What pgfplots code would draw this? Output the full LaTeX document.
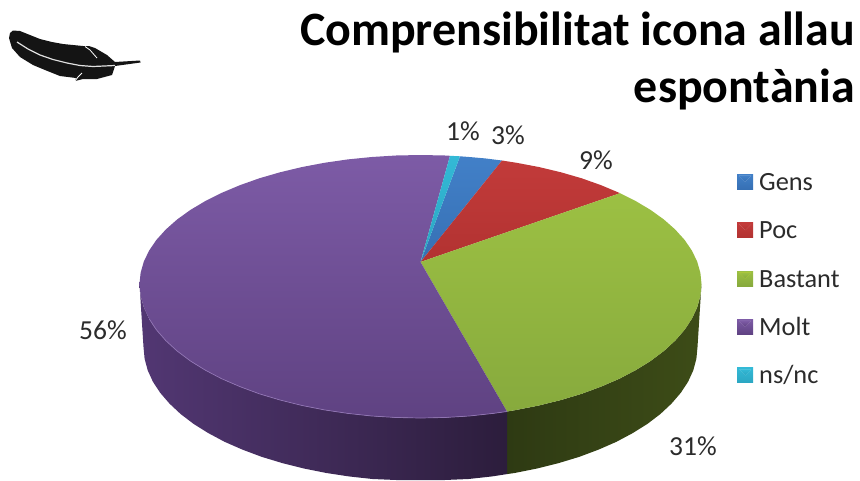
\documentclass[border=0pt]{standalone}
\usepackage{pgfplots}
\pgfplotsset{compat=1.18}
\usepackage{fontspec}
\setmainfont{Carlito}

\definecolor{blueT}{HTML}{4280C8}
\definecolor{blueB}{HTML}{3670B4}
\definecolor{redT}{HTML}{C23B3A}
\definecolor{redB}{HTML}{B23231}
\definecolor{greenT}{HTML}{9CC043}
\definecolor{greenB}{HTML}{87AA3D}
\definecolor{purpleT}{HTML}{7D5BA6}
\definecolor{purpleB}{HTML}{5F4282}
\definecolor{cyanT}{HTML}{33B9D6}
\definecolor{cyanB}{HTML}{2BA6C2}
\definecolor{greenSideL}{HTML}{2E3A13}
\definecolor{greenSideR}{HTML}{3D4C17}
\definecolor{purpleSideL}{HTML}{523773}
\definecolor{purpleSideM}{HTML}{3E2A56}
\definecolor{purpleSideR}{HTML}{2C1D3C}
\definecolor{labeltext}{HTML}{2B2B2B}

% legend swatch: dark square with a light notch on top
\pgfplotsset{swatch/.style n args={3}{
  legend image code/.code={%
    \shade[top color=#1,bottom color=#2] (0pt,-7.5pt) rectangle (16pt,7.5pt);
    \fill[#3] (2pt,6pt) -- (14pt,6pt) -- (8pt,0pt) -- cycle;
  }}}

\begin{document}
\begin{tikzpicture}
\begin{axis}[
    width=860pt, height=480pt,
    scale only axis,
    xmin=0, xmax=860, ymin=0, ymax=480,
    y dir=reverse,
    hide axis,
    clip=true,
    legend cell align=left,
    legend style={
        at={(axis cs:734,171)}, anchor=north west,
        draw=none, fill=none,
        font=\fontsize{26.3}{30}\selectfont\color{labeltext},
        row sep=31.4pt,
        nodes={text height=17pt, text depth=0pt, inner sep=0pt, outer sep=0pt},
        /tikz/every odd column/.style={column sep=6pt},
    },
]
% keeps the page at full size
\addplot[draw=none, forget plot] coordinates {(0,0) (860,480)};

% side wall, green
\addplot[draw=none, forget plot, left color=greenSideL, right color=greenSideR] coordinates {
(507,411.5) (516.6,409.9) (539.3,405.4) (561,400) (581.7,393.8) (601.1,386.6) (619.2,378.8) (635.8,370.1) (650.7,360.9) (663.9,351) (675.2,340.6) (684.6,329.8) (691.9,318.7) (697.2,307.3) (700.4,295.7) (701.5,284)
(697.5,347) (696.4,358.7) (693.3,370.3) (688.1,381.7) (680.8,392.8) (671.5,403.6) (660.4,414) (647.4,423.9) (632.7,433.1) (616.4,441.8) (598.6,449.6) (579.4,456.8) (559,463) (537.6,468.4) (515.2,472.9) (507,474.1)
} -- cycle;

% side wall, purple
\addplot[draw=none, forget plot, left color=purpleSideL, middle color=purpleSideM, right color=purpleSideR] coordinates {
(507,411.5) (493.2,413.4) (469.3,416) (445,417.5) (420.5,418) (396,417.5) (371.7,416) (347.8,413.4) (324.4,409.9) (301.7,405.4) (280,400) (259.3,393.8) (239.9,386.6) (221.8,378.8) (205.2,370.1) (190.3,360.9) (177.1,351) (165.8,340.6) (156.4,329.8) (149.1,318.7) (143.8,307.3) (140.6,295.7) (139.5,284)
(143.5,347) (144.6,358.7) (147.7,370.3) (152.9,381.7) (160.2,392.8) (169.5,403.6) (180.6,414) (193.6,423.9) (208.3,433.1) (224.6,441.8) (242.4,449.6) (261.6,456.8) (282,463) (303.4,468.4) (325.8,472.9) (348.8,476.4) (372.4,479) (396.3,480) (420.5,480) (444.7,480) (468.6,479) (492.2,476.4) (507,474.1)
} -- cycle;

% top face: Gens
\addplot[draw=none, top color=blueT, bottom color=blueB, swatch={blueT}{blueB}{blueT!45!white}] coordinates {
(420.5,262) (460,156.3) (469.3,157) (485,158.4) (493.2,159.4) (502,160.5)
} -- cycle;
\addlegendentry{Gens}

% top face: Poc
\addplot[draw=none, top color=redT, bottom color=redB, swatch={redT}{redB}{redT!45!white}] coordinates {
(420.5,262) (502,160.5) (516.6,162.8) (539.3,167.1) (561,172.3) (581.7,178.3) (601.1,185.2) (619.2,192.8) (620,193.2)
} -- cycle;
\addlegendentry{Poc}

% top face: Bastant
\addplot[draw=none, top color=greenT, bottom color=greenB, swatch={greenT}{greenB}{yellow!70!greenT}] coordinates {
(420.5,262) (620,193.2) (635.8,201.1) (650.7,210) (663.9,219.5) (675.2,229.5) (684.6,239.9) (691.9,250.6) (697.2,261.6) (700.4,272.8) (701.5,284) (700.4,295.7) (697.2,307.3) (691.9,318.7) (684.6,329.8) (675.2,340.6) (663.9,351) (650.7,360.9) (635.8,370.1) (619.2,378.8) (601.1,386.6) (581.7,393.8) (561,400) (539.3,405.4) (516.6,409.9) (507,411.5)
} -- cycle;
\addlegendentry{Bastant}

% top face: Molt
\addplot[draw=none, top color=purpleT, bottom color=purpleB, swatch={purpleT}{purpleB}{purpleT!45!white}] coordinates {
(420.5,262) (507,411.5) (493.2,413.4) (469.3,416) (445,417.5) (420.5,418) (396,417.5) (371.7,416) (347.8,413.4) (324.4,409.9) (301.7,405.4) (280,400) (259.3,393.8) (239.9,386.6) (221.8,378.8) (205.2,370.1) (190.3,360.9) (177.1,351) (165.8,340.6) (156.4,329.8) (149.1,318.7) (143.8,307.3) (140.6,295.7) (139.5,284) (140.6,272.8) (143.8,261.6) (149.1,250.6) (156.4,239.9) (165.8,229.5) (177.1,219.5) (190.3,210) (205.2,201.1) (221.8,192.8) (239.9,185.2) (259.3,178.3) (280,172.3) (301.7,167.1) (324.4,162.8) (347.8,159.4) (371.7,157) (396,155.5) (420.5,155) (445,155.5) (450,155.8)
} -- cycle;
\addlegendentry{Molt}

% top face: ns/nc
\addplot[draw=none, top color=cyanT, bottom color=cyanB, swatch={cyanT}{cyanB}{cyanT!45!white}] coordinates {
(420.5,262) (450,155.8) (460,156.3)
} -- cycle;
\addlegendentry{ns/nc}

% lighter rim along the front of the purple slice
\addplot[forget plot, color=purpleT!85!white, line width=0.7pt] coordinates {
(507,411.5) (493.2,413.4) (469.3,416) (445,417.5) (420.5,418) (396,417.5) (371.7,416) (347.8,413.4) (324.4,409.9) (301.7,405.4) (280,400) (259.3,393.8) (239.9,386.6) (221.8,378.8) (205.2,370.1) (190.3,360.9) (177.1,351) (165.8,340.6) (156.4,329.8) (149.1,318.7)
};

% feather
\addplot[forget plot, draw=none, fill=black!92] coordinates {
(9,38) (10,33) (13,30.5) (20,31) (30,35) (40,39) (52,42) (63,44) (83,46) (89,46) (95,48) (107,55) (115,62) (140,60.5) (140.5,62.5) (115,66) (112,75) (97,79) (83,79) (75,81) (76,78) (60,76) (45,70) (33,65) (20,57) (12,48)
} -- cycle;
\addplot[forget plot, color=black!12, line width=1.2pt] coordinates {
(17,42) (28,49) (40,55) (53,59.5) (67,63) (80,65.5) (93,66.5) (115,65.5)
};
\addplot[forget plot, color=white, line width=0.8pt] coordinates {(85,46.5) (90,50) (97,58)};
\addplot[forget plot, color=white, line width=0.8pt] coordinates {(75,81) (78,77) (82,73)};

% title
\node[anchor=base east, font=\fontsize{47.9}{55}\bfseries\selectfont, inner sep=0pt] at (axis cs:855,45) {Comprensibilitat icona allau};
\node[anchor=base east, font=\fontsize{47.9}{55}\bfseries\selectfont, inner sep=0pt] at (axis cs:855,102) {espontània};

% data labels
\node[font=\fontsize{27.5}{32}\selectfont, text=labeltext] at (axis cs:463,131) {1\%};
\node[font=\fontsize{27.5}{32}\selectfont, text=labeltext] at (axis cs:508,135) {3\%};
\node[font=\fontsize{27.5}{32}\selectfont, text=labeltext] at (axis cs:596,160) {9\%};
\node[font=\fontsize{27.5}{32}\selectfont, text=labeltext] at (axis cs:103,330) {56\%};
\node[font=\fontsize{27.5}{32}\selectfont, text=labeltext] at (axis cs:693,446) {31\%};
\end{axis}
\end{tikzpicture}
\end{document}
